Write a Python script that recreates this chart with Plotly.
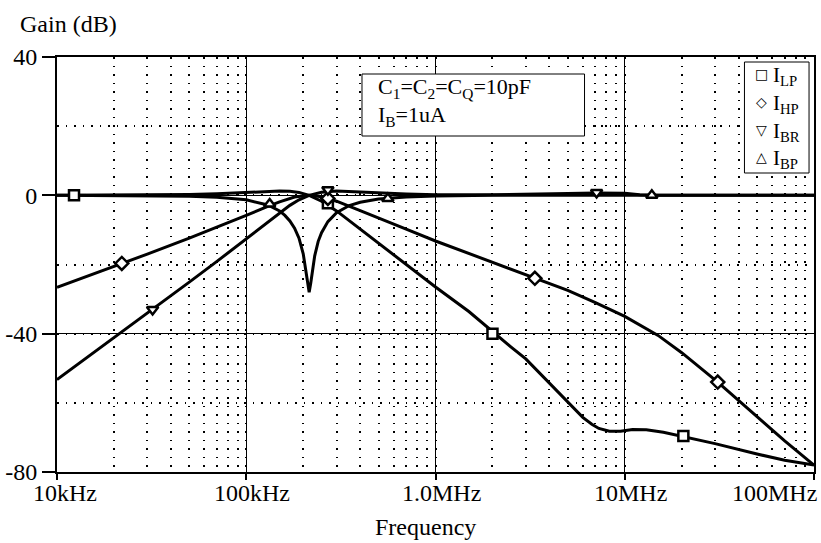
import math
import plotly.graph_objects as go

# ---------------- data ----------------
lp_f = [1e4, 2e4, 3e4, 5e4, 7e4, 1e5, 1.3e5, 1.5e5, 1.7e5, 1.9e5, 2.15e5, 2.5e5, 3e5, 4e5, 5e5,
        7e5, 1e6, 1.5e6, 2e6, 2.5e6, 3e6, 3.9e6, 5e6, 6e6, 6.7e6, 7.3e6, 8.3e6, 9.5e6, 1.1e7,
        1.3e7, 1.6e7, 2e7, 3e7, 5e7, 7e7, 1e8]
lp_db = [0.0, 0.03, 0.08, 0.23, 0.43, 0.81, 1.15, 1.25, 1.18, 0.85, 0.0, -1.7, -4.5, -9.8, -14.0,
         -20.1, -26.5, -33.6, -39.5, -43.8, -47.3, -53.6, -59.8, -64.2, -66.2, -67.4, -68.2, -68.2, -67.7,
         -67.8, -68.5, -69.6, -71.8, -74.8, -76.6, -78.0]

hp_f = [1e4, 1.5e4, 2e4, 3e4, 5e4, 7e4, 1e5, 1.3e5, 1.5e5, 1.7e5, 1.9e5, 2.15e5, 2.5e5, 3e5, 4e5,
        5e5, 7e5, 1e6, 2e6, 5e6, 7e6, 1e7, 1.2e7, 1.5e7, 3e7, 5e7, 1e8]
hp_db = [-53.3, -46.2, -41.3, -34.1, -25.1, -19.1, -12.5, -7.6, -5.0, -2.9, -1.3, 0.0, 0.9, 1.25, 1.0,
         0.7, 0.4, 0.2, 0.2, 0.5, 0.7, 0.6, 0.2, 0.0, 0.0, 0.0, 0.0]

bp_f = [1e4, 1.5e4, 2e4, 3e4, 5e4, 7e4, 1e5, 1.3e5, 1.5e5, 1.8e5, 2.15e5, 2.5e5, 3e5, 4e5, 5e5,
        7e5, 1e6, 2e6, 3.35e6, 5e6, 7e6, 1e7, 1.5e7, 2e7, 3.1e7, 5e7, 7e7, 1e8]
bp_db = [-26.6, -23.1, -20.6, -17.0, -12.4, -9.3, -5.8, -3.2, -1.9, -0.5, 0.0, -0.4, -1.7, -4.4, -6.6,
         -9.8, -13.2, -19.3, -24.0, -27.5, -31.0, -35.0, -40.5, -45.5, -54.0, -64.0, -71.0, -78.0]

br_f = [1e4, 3e4, 5e4, 7e4, 1e5, 1.3e5, 1.5e5, 1.6e5, 1.7e5, 1.8e5, 1.9e5, 2e5, 2.07e5, 2.11e5,
        2.15e5, 2.19e5, 2.23e5, 2.3e5, 2.4e5, 2.5e5, 2.7e5, 3e5, 3.5e5, 4e5, 5e5, 5.6e5, 7e5, 1e6,
        2e6, 1e7, 1e8]
br_db = [0.0, -0.1, -0.25, -0.55, -1.3, -2.8, -4.5, -5.8, -7.4, -9.5, -12.4, -16.9, -22.4, -25.5,
         -28.0, -25.5, -22.7, -17.5, -13.3, -10.8, -7.6, -5.0, -2.95, -2.0, -1.06, -0.85, -0.45, -0.2,
         0.0, 0.0, 0.0]

# marker points on the curves
lp_mk_f = [1.23e4, 2.7e5, 2.0e6, 2.04e7]
lp_mk_db = [0.0, -2.3, -40.0, -69.6]
bp_mk_f = [2.2e4, 2.7e5, 3.35e6, 3.1e7]
bp_mk_db = [-19.7, -0.9, -24.0, -54.0]
hp_mk_f = [3.2e4, 2.7e5, 7.1e6]
hp_mk_db = [-33.0, 1.6, 0.8]
br_mk_f = [1.33e5, 5.6e5, 1.39e7]
br_mk_db = [-2.5, -0.9, 0.0]

xtick_vals = [1e4, 1e5, 1e6, 1e7, 1e8]
xtick_text = ["10kHz", "100kHz", "1.0MHz", "10MHz", "100MHz"]
ytick_vals = [-80, -40, 0, 40]
ytick_text = ["-80", "-40", "0", "40"]

legend_sym = ["\u25a1", "\u25c7", "\u25bd", "\u25b3"]
legend_txt = ["I<sub>LP</sub>", "I<sub>HP</sub>", "I<sub>BR</sub>", "I<sub>BP</sub>"]

# ---------------- figure ----------------
SERIF = "Liberation Serif"
fig = go.Figure()

for f, d in [(lp_f, lp_db), (hp_f, hp_db), (bp_f, bp_db), (br_f, br_db)]:
    fig.add_trace(go.Scatter(x=f, y=d, mode="lines",
                             line=dict(color="black", width=3), hoverinfo="skip"))

for f, d, sym, sz in [(lp_mk_f, lp_mk_db, "square", 10), (bp_mk_f, bp_mk_db, "diamond", 10),
                      (hp_mk_f, hp_mk_db, "triangle-down", 10), (br_mk_f, br_mk_db, "triangle-up", 10)]:
    fig.add_trace(go.Scatter(x=f, y=d, mode="markers",
                             marker=dict(symbol=sym, size=sz, color="white",
                                         line=dict(color="black", width=2.5)),
                             hoverinfo="skip"))

L, R, T, B = 54, 5, 57, 71
W, H = 821, 543
pw, ph = W - L - R, H - T - B


def px2paper(x, y):
    return (x - L) / pw, (H - B - y) / ph


dot = "1.5px,7px"
fig.update_layout(
    width=W, height=H, margin=dict(l=L, r=R, t=T, b=B),
    paper_bgcolor="white", plot_bgcolor="white", showlegend=False,
    font=dict(family=SERIF, size=24, color="black"),
    xaxis=dict(type="log", range=[4, 8], tickvals=xtick_vals, showticklabels=False,
               ticks="outside", ticklen=6, tickwidth=1.5, tickcolor="black",
               showline=True, linewidth=2, linecolor="black", mirror=True,
               showgrid=True, gridcolor="black", gridwidth=1, zeroline=False,
               minor=dict(dtick="D1", showgrid=True, gridcolor="black",
                          griddash=dot, gridwidth=1.5, ticks="")),
    yaxis=dict(range=[-80, 40], tickvals=ytick_vals, ticktext=ytick_text,
               ticks="outside", ticklen=13, tickwidth=1.5, tickcolor="black",
               showline=True, linewidth=2, linecolor="black", mirror=True,
               showgrid=True, gridcolor="black", gridwidth=1, zeroline=False,
               tickfont=dict(family=SERIF, size=24),
               minor=dict(dtick=20, showgrid=True, gridcolor="black",
                          griddash=dot, gridwidth=1.5, ticks="")),
)

ann = []
# x tick labels
for i, (v, t) in enumerate(zip(xtick_vals, xtick_text)):
    if i == len(xtick_vals) - 1:
        xa, xs = "right", 5
    elif i == 0:
        xa, xs = "center", 8
    else:
        xa, xs = "center", 6
    ann.append(dict(x=math.log10(v), xref="x", y=0, yref="paper", text=t, showarrow=False,
                    xanchor=xa, yanchor="top", xshift=xs, yshift=-6,
                    font=dict(family=SERIF, size=24)))

# axis titles
gx, gy = px2paper(15, 24)
ann.append(dict(x=gx, y=gy, xref="paper", yref="paper", text="Gain (dB)", showarrow=False,
                xanchor="left", yanchor="middle", font=dict(family=SERIF, size=24)))
fx, fy = px2paper(425, 527)
ann.append(dict(x=fx, y=fy, xref="paper", yref="paper", text="Frequency", showarrow=False,
                xanchor="center", yanchor="middle", font=dict(family=SERIF, size=24)))

# info box
shapes = []
bx0, by0 = px2paper(361, 136)
bx1, by1 = px2paper(585, 74)
shapes.append(dict(type="rect", xref="paper", yref="paper", x0=bx0, y0=by0, x1=bx1, y1=by1,
                   line=dict(color="black", width=1), fillcolor="white", layer="above"))
tx, ty = px2paper(375, 88)
ann.append(dict(x=tx, y=ty, xref="paper", yref="paper",
                text="C<sub>1</sub>=C<sub>2</sub>=C<sub>Q</sub>=10pF", showarrow=False,
                xanchor="left", yanchor="middle", font=dict(family=SERIF, size=22)))
tx, ty = px2paper(375, 116)
ann.append(dict(x=tx, y=ty, xref="paper", yref="paper",
                text="I<sub>B</sub>=1uA", showarrow=False,
                xanchor="left", yanchor="middle", font=dict(family=SERIF, size=22)))

# legend box
lx0, ly0 = px2paper(746, 173)
lx1, ly1 = px2paper(811, 62)
shapes.append(dict(type="rect", xref="paper", yref="paper", x0=lx0, y0=ly0, x1=lx1, y1=ly1,
                   line=dict(color="black", width=1), fillcolor="white", layer="above"))
for i, (s, t) in enumerate(zip(legend_sym, legend_txt)):
    yy = [74, 102, 130, 157][i]
    sx, sy = px2paper(763, yy)
    ann.append(dict(x=sx, y=sy, xref="paper", yref="paper", text=s, showarrow=False,
                    xanchor="center", yanchor="middle",
                    font=dict(family="DejaVu Sans", size=14)))
    qx, qy = px2paper(773, yy + 2)
    ann.append(dict(x=qx, y=qy, xref="paper", yref="paper", text=t, showarrow=False,
                    xanchor="left", yanchor="middle", font=dict(family=SERIF, size=21)))

fig.update_layout(annotations=ann, shapes=shapes)
fig.write_html("out.html", config={"displayModeBar": False},
               post_script="document.body.style.margin='0px';")
